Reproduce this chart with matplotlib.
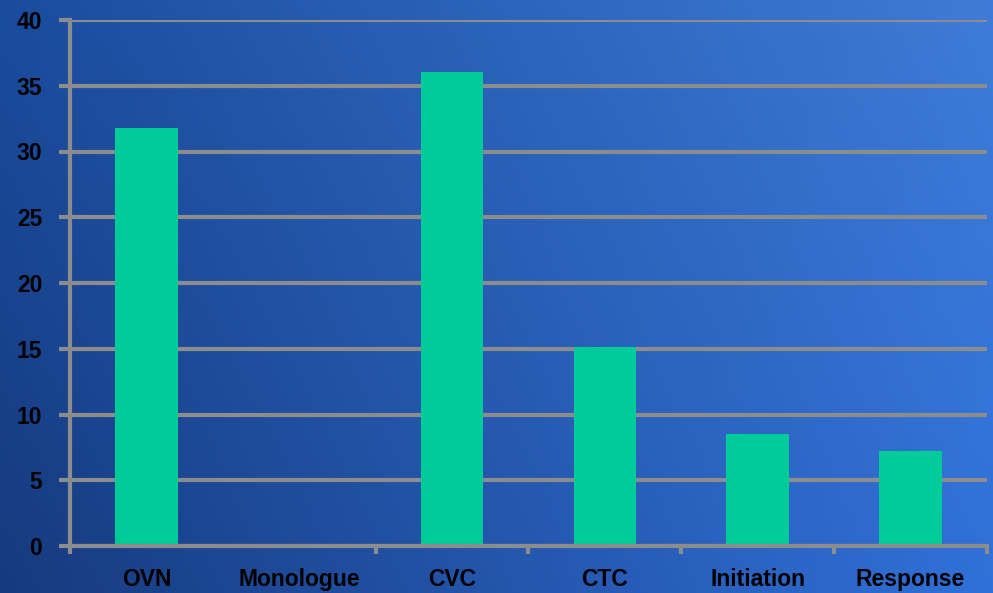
import numpy as np
import matplotlib
matplotlib.use("Agg")
import matplotlib.pyplot as plt

categories = ["OVN", "Monologue", "CVC", "CTC", "Initiation", "Response"]
values = [31.8, 0, 36.05, 15.1, 8.5, 7.2]
y_ticks = [0, 5, 10, 15, 20, 25, 30, 35, 40]

plt.rcParams['font.family'] = ['Liberation Sans', 'DejaVu Sans']

fig = plt.figure(figsize=(9.93, 5.93), dpi=100)

# background gradient over the whole figure
bg = fig.add_axes([0, 0, 1, 1], zorder=-10)
tl = np.array([0x1a, 0x4c, 0x9e]) / 255
tr = np.array([0x3e, 0x7c, 0xd8]) / 255
bl = np.array([0x16, 0x3a, 0x7e]) / 255
br = np.array([0x30, 0x70, 0xd8]) / 255
u = np.linspace(0, 1, 200)[None, :, None]
v = np.linspace(0, 1, 120)[:, None, None]
grad = (1 - v) * ((1 - u) * tl + u * tr) + v * ((1 - u) * bl + u * br)
bg.imshow(grad, aspect='auto', extent=[0, 1, 0, 1], interpolation='bilinear')
bg.axis('off')

ax = fig.add_axes([70 / 993, 47 / 593, 917 / 993, 526 / 593])
ax.patch.set_alpha(0)

x = np.arange(len(categories))
ax.bar(x, values, width=0.41, color='#00cc99', zorder=3)

ax.set_xlim(-0.5, len(categories) - 0.5)
ax.set_ylim(0, 40)
ax.set_yticks(y_ticks)
ax.yaxis.grid(True, color='#8c8c8c', linewidth=3, zorder=1)
ax.set_axisbelow(True)

for side in ['top', 'right']:
    ax.spines[side].set_visible(False)
for side in ['left', 'bottom']:
    ax.spines[side].set_color('#8c8c8c')
    ax.spines[side].set_linewidth(3)
ax.spines['bottom'].set_zorder(4)

ax.set_xticks(x)
ax.set_xticklabels(categories)
ax.tick_params(axis='x', length=0, pad=16, labelsize=16.5, labelcolor='black')
ax.tick_params(axis='y', length=8, width=3, color='#8c8c8c', pad=12,
               labelsize=16.5, labelcolor='black')
for lbl in ax.get_xticklabels() + ax.get_yticklabels():
    lbl.set_fontweight('bold')

# boundary ticks below the x axis (none between first two groups)
for b in [1.5, 2.5, 3.5, 4.5, 5.5]:
    ax.plot([b, b], [0, -0.6], color='#8c8c8c', lw=3,
            clip_on=False, zorder=4, solid_capstyle='butt')
ax.plot([-0.5, -0.5], [0, -0.6], color='#8c8c8c', lw=3,
        clip_on=False, zorder=4, solid_capstyle='butt')

fig.savefig("out.png", dpi=100)
